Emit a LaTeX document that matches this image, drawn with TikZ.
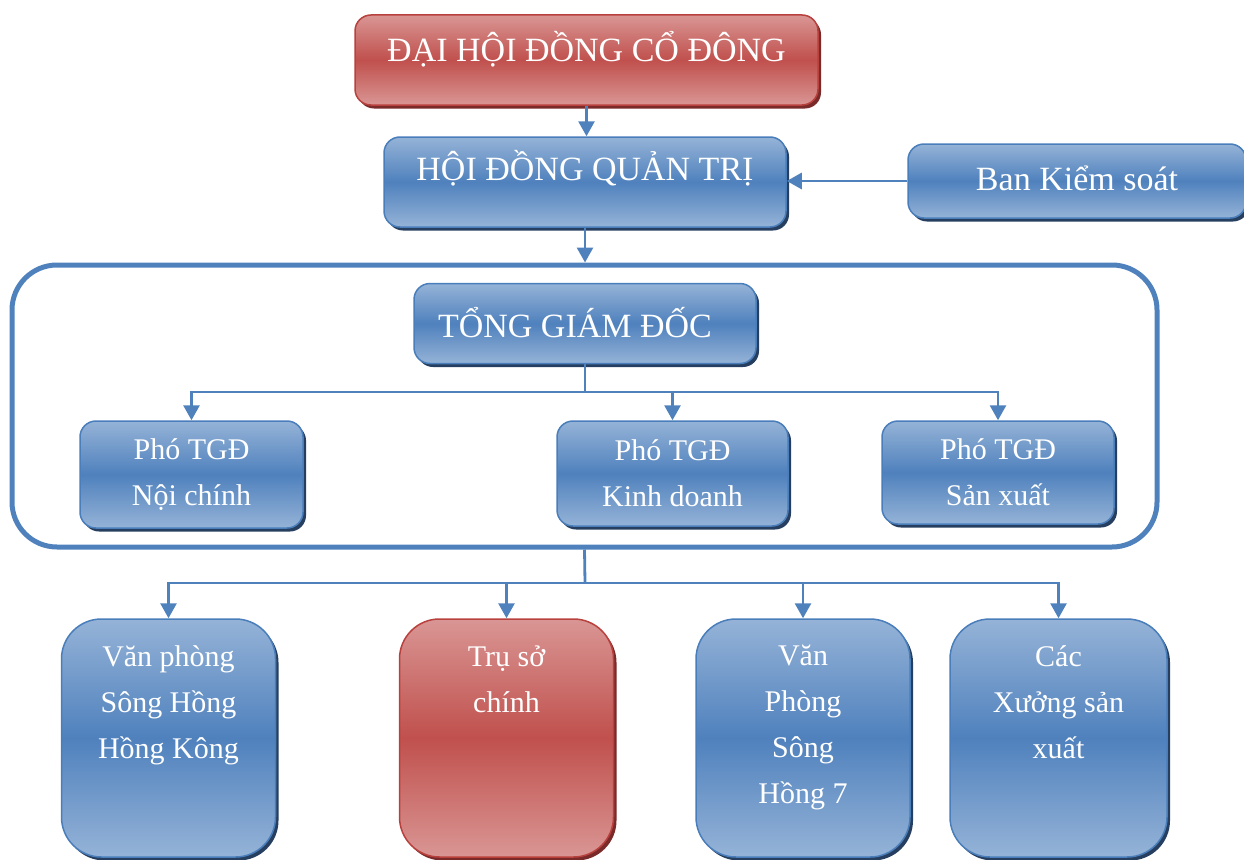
\documentclass[tikz,border=0pt]{standalone}
\usepackage{fontspec}
\setmainfont{Liberation Serif}
\usetikzlibrary{arrows.meta,positioning,shadows}

\definecolor{xanh}{HTML}{4F81BD}
\definecolor{xanhnhat}{HTML}{95B3D7}
\definecolor{xanhtoi}{HTML}{263F60}
\definecolor{vienxanh}{HTML}{4A7EBB}
\definecolor{do}{HTML}{C0504D}
\definecolor{donhat}{HTML}{D99694}
\definecolor{dotoi}{HTML}{7A2A28}
\definecolor{viendo}{HTML}{B8413E}

\tikzset{
  hopgoc/.style={rounded corners=16pt, line width=1.5pt, text=white,
    align=center, inner sep=0pt},
  hop/.style={hopgoc, draw=vienxanh,
    top color=xanhnhat, bottom color=xanhnhat, middle color=xanh,
    drop shadow={shadow xshift=3pt, shadow yshift=-3.5pt, fill=xanhtoi, opacity=1}},
  hopdo/.style={hopgoc, draw=viendo,
    top color=donhat, bottom color=donhat, middle color=do,
    drop shadow={shadow xshift=3pt, shadow yshift=-3.5pt, fill=dotoi, opacity=1}},
  lon/.style={font=\fontsize{34}{40}\selectfont},
  nho/.style={font=\fontsize{30}{46}\selectfont},
  donvi/.style={minimum width=214pt, minimum height=238pt, rounded corners=40pt},
  chu/.style={text=white, nho, align=center, inner sep=0pt},
  mui/.style={draw=xanh, line width=2.8pt, -{Triangle[length=15pt,width=16pt]}},
  nhanh/.style={draw=xanh, line width=2.8pt}
}

\begin{document}
\begin{tikzpicture}[x=1pt,y=-1pt]
\useasboundingbox (0,0) rectangle (1244,859);

% khung ban dieu hanh
\node[draw=xanh, line width=5pt, rounded corners=45pt,
  minimum width=1145pt, minimum height=282pt] (khung) at (584.5,406) {};

% cap tren
\node[hopdo, lon, minimum width=463pt, minimum height=90pt,
  text height=24pt, text depth=20pt] (dhdcd) at (586.5,60) {ĐẠI HỘI ĐỒNG CỔ ĐÔNG};
\node[hop, lon, minimum width=402pt, minimum height=90pt,
  text height=20pt, text depth=24pt] (hdqt) at (585,182) {HỘI ĐỒNG QUẢN TRỊ};
\node[hop, lon, minimum width=338pt, minimum height=74pt,
  text height=30pt, text depth=12pt] (bks) at (1077,181) {Ban Kiểm soát};

% ban tong giam doc
\node[hop, lon, minimum width=342pt, minimum height=80pt,
  text height=32pt, text depth=5pt] (tgd) at (585,323.5) {TỔNG GIÁM ĐỐC\hspace*{20pt}};
\node[hop, nho, minimum width=223pt, minimum height=107pt] (pnc) at (191.5,474.5) {Phó TGĐ\\Nội chính};
\node[hop, nho, minimum width=231pt, minimum height=105pt] (pkd) at (672.5,473.5) {Phó TGĐ\\Kinh doanh};
\node[hop, nho, minimum width=232pt, minimum height=103pt] (psx) at (998,472.5) {Phó TGĐ\\Sản xuất};

% don vi truc thuoc
\node[hop, donvi] (vpshk) at (168.5,738) {};
\node[hopdo, donvi] (tsc) at (506.5,738) {};
\node[hop, donvi] (vpsh7) at (803,738) {};
\node[hop, donvi, minimum width=217pt] (cxsx) at (1058.5,738) {};
\node[chu, below=27pt of vpshk.north] (vpshk-chu) {Văn phòng\\Sông Hồng\\Hồng Kông};
\node[chu, below=27pt of tsc.north] (tsc-chu) {Trụ sở\\chính};
\node[chu, below=27pt of vpsh7.north] (vpsh7-chu) {Văn\\Phòng\\Sông\\Hồng 7};
\node[chu, below=27pt of cxsx.north] (cxsx-chu) {Các\\Xưởng sản\\xuất};

% mui ten
\draw[mui] (dhdcd.south) -- (dhdcd.south |- hdqt.north);
\draw[mui] (hdqt.south) -- (hdqt.south |- khung.north);
\draw[mui] (bks.west) -- (bks.west -| hdqt.east);

\coordinate (re1) at (585,392);
\coordinate (re2) at (585,583);
\draw[nhanh] (tgd.south) -- (re1);
\foreach \n in {pnc,pkd,psx}
  \draw[mui] (re1) -| (\n.north);
\draw[nhanh] (khung.south) -- (re2);
\foreach \n in {vpshk,tsc,vpsh7,cxsx}
  \draw[mui] (re2) -| (\n.north);
\end{tikzpicture}
\end{document}
